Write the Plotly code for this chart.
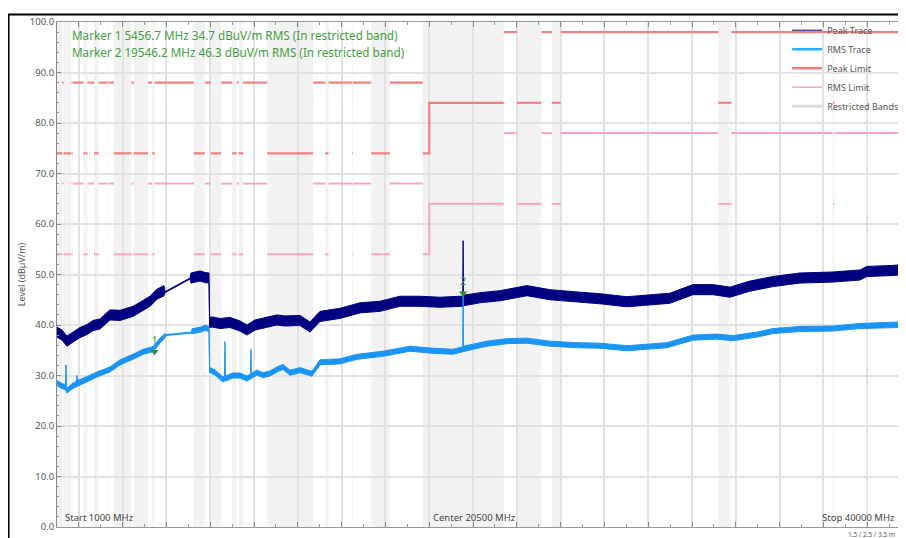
import plotly.graph_objects as go

# ---------------- data (MHz, dBuV/m) ----------------
peak_freq = [1000, 1228, 1457, 1685, 2050, 2370, 2644, 2963, 3420, 3877, 4470, 4790, 5247, 5566, 5886,
             5932, 7073, 7119, 7530, 7758, 7941, 7968, 8078, 8443, 8900, 9356, 9676, 10041, 10589, 11046,
             11411, 11776, 12096, 12552, 13009, 13922, 14836, 15749, 16662, 17575, 18489, 19402, 19530,
             19546, 19562, 20315, 21228, 22461, 23511, 24881, 25794, 27027, 28077, 28991, 30041, 30954,
             31730, 32644, 33694, 34927, 36434, 37666, 37986, 39173, 40000]
peak_lo = [37.6, 37.0, 35.8, 36.5, 37.5, 38.1, 38.9, 39.2, 41.0, 40.9, 41.7, 42.5, 43.7, 45.1, 45.8,
           46.4, 49.1, 48.3, 48.7, 48.4, 48.3, 39.5, 39.6, 39.3, 39.5, 38.8, 38.0, 39.0, 39.6, 40.0,
           39.8, 39.9, 39.9, 38.6, 40.7, 41.3, 42.4, 42.7, 43.7, 43.7, 43.5, 43.7, 43.7,
           43.8, 43.9, 44.4, 44.8, 45.8, 45.0, 44.5, 44.2, 43.6, 44.0, 44.3, 46.0, 46.0,
           45.5, 46.7, 47.6, 48.3, 48.5, 48.9, 49.6, 49.8, 50.1]
peak_hi = [39.6, 39.0, 37.8, 38.5, 39.5, 40.1, 40.9, 41.2, 43.0, 42.9, 43.7, 44.5, 45.7, 47.1, 47.8,
           46.6, 49.3, 50.3, 50.7, 50.4, 50.3, 41.5, 41.6, 41.3, 41.5, 40.8, 40.0, 41.0, 41.6, 42.0,
           41.8, 41.9, 41.9, 40.6, 42.7, 43.3, 44.4, 44.7, 45.7, 45.7, 45.5, 45.7, 45.7,
           56.7, 45.9, 46.4, 46.8, 47.8, 47.0, 46.5, 46.2, 45.6, 46.0, 46.3, 48.0, 48.0,
           47.5, 48.7, 49.6, 50.3, 50.5, 50.9, 51.6, 51.8, 52.1]

rms_freq = [1000, 1228, 1390, 1411, 1432, 1457, 1685, 1890, 1913, 1936, 2370, 2826, 3420, 3877, 4470,
            4927, 5383, 5703, 5932, 5960, 7140, 7164, 7530, 7758, 7941, 7968, 8214, 8579, 8650, 8671,
            8692, 9036, 9356, 9676, 9840, 9858, 9876, 10132, 10406, 10726, 11046, 11320, 11640, 12096,
            12644, 13009, 13922, 14699, 15886, 17119, 18169, 19082, 19447, 19530, 19546, 19562, 19995,
            20634, 21548, 22461, 23511, 24744, 25794, 27027, 28853, 30040, 31136, 31867, 32963, 33693,
            34926, 36433, 37666, 39493, 40000]
rms_lo = [28.0, 27.4, 27.2, 27.2, 26.8, 26.5, 27.35, 27.9, 27.9, 28.0, 28.8, 29.7, 30.7, 32.1, 33.2,
          34.2, 34.7, 36.4, 37.5, 37.9, 38.4, 38.25, 38.55, 38.95, 38.7, 30.6, 30.1, 28.7, 28.9, 28.9,
          28.9, 29.5, 29.5, 28.9, 29.3, 29.3, 29.4, 30.1, 29.55, 29.9, 30.7, 31.2, 30.05, 30.55,
          29.85, 32.1, 32.3, 33.2, 33.8, 34.8, 34.4, 34.2, 34.6, 34.7, 34.7, 34.8, 35.2,
          35.8, 36.3, 36.4, 35.8, 35.5, 35.4, 34.9, 35.5, 37.0, 37.2, 36.9, 37.6, 38.3,
          38.7, 38.8, 39.3, 39.5, 39.7]
rms_hi = [29.0, 28.4, 28.2, 32.1, 27.8, 27.5, 28.35, 28.9, 30.0, 29.0, 29.8, 30.7, 31.7, 33.1, 34.2,
          35.2, 35.7, 37.4, 38.3, 38.1, 38.6, 39.25, 39.55, 39.95, 39.7, 31.6, 31.1, 29.7, 29.9, 36.7,
          29.9, 30.5, 30.5, 29.9, 30.3, 35.2, 30.4, 31.1, 30.55, 30.9, 31.7, 32.2, 31.05, 31.55,
          30.85, 33.1, 33.3, 34.2, 34.8, 35.8, 35.4, 35.2, 35.6, 35.7, 46.6, 35.8, 36.2,
          36.8, 37.3, 37.4, 36.8, 36.5, 36.4, 35.9, 36.5, 38.0, 38.2, 37.9, 38.6, 39.3,
          39.7, 39.8, 40.3, 40.5, 40.7]

# Restricted bands (MHz)
band_start = [960, 1300, 1435, 1645.5, 1660, 1718.8, 2200, 2310, 2483.5, 2690, 3260, 3332, 3345.8,
              3600, 4500, 5350, 7250, 8025, 9000, 9300, 10600, 13250, 14470, 15350, 17700, 22010,
              23600, 31200, 36430]
band_end = [1240, 1427, 1626.5, 1646.5, 1710, 1722.2, 2300, 2390, 2500, 2900, 3267, 3339, 3358,
            4400, 5150, 5460, 7750, 8500, 9200, 9500, 12700, 13400, 14500, 16200, 21400, 23120,
            24000, 31800, 36500]

span_start, span_stop = 1000, 40000
limit_step_freq = 18000
peak_limit_restricted = [74, 84]
peak_limit_other = [88, 98]
rms_limit_restricted = [54, 64]
rms_limit_other = [68, 78]

marker_ids = [1, 2]
marker_freq = [5456.7, 19546.2]
marker_level = [34.7, 46.3]

# ---------------- helpers ----------------
def intervals():
    out = []
    pos = span_start
    for a, b in zip(band_start, band_end):
        a2, b2 = max(a, span_start), min(b, span_stop)
        if a2 > pos:
            out.append((pos, a2, False))
        out.append((a2, b2, True))
        pos = b2
    if pos < span_stop:
        out.append((pos, span_stop, False))
    return out


def limit_line(restricted_vals, other_vals):
    xs, ys = [], []
    for a, b, restr in intervals():
        v = restricted_vals if restr else other_vals
        if a < limit_step_freq < b:
            xs += [a, limit_step_freq, limit_step_freq, b]
            ys += [v[0], v[0], v[1], v[1]]
        else:
            val = v[0] if b <= limit_step_freq else v[1]
            xs += [a, b]
            ys += [val, val]
        xs.append(None)
        ys.append(None)
    return xs, ys


fig = go.Figure()

# restricted band shading
for a, b in zip(band_start, band_end):
    fig.add_shape(type="rect", xref="x", yref="paper", x0=max(a, span_start), x1=b, y0=0, y1=1,
                  fillcolor="#f2f2f2", line_width=0, layer="below")

PEAK_C = "#000080"
RMS_C = "#1a95f5"
PLIM_C = "#f08080"
RLIM_C = "#ffa3c4"

px, py = limit_line(peak_limit_restricted, peak_limit_other)
fig.add_trace(go.Scatter(x=px, y=py, mode="lines", line=dict(color=PLIM_C, width=2.2),
                         showlegend=False, hoverinfo="skip"))
rx, ry = limit_line(rms_limit_restricted, rms_limit_other)
fig.add_trace(go.Scatter(x=rx, y=ry, mode="lines", line=dict(color=RLIM_C, width=2),
                         showlegend=False, hoverinfo="skip"))

fig.add_trace(go.Scatter(x=peak_freq + peak_freq[::-1], y=peak_hi + peak_lo[::-1], mode="lines",
                         fill="toself", fillcolor=PEAK_C, line=dict(color=PEAK_C, width=1),
                         showlegend=False, hoverinfo="skip"))
fig.add_trace(go.Scatter(x=rms_freq + rms_freq[::-1], y=rms_hi + rms_lo[::-1], mode="lines",
                         fill="toself", fillcolor=RMS_C, line=dict(color=RMS_C, width=1),
                         showlegend=False, hoverinfo="skip"))

# markers
fig.add_trace(go.Scatter(x=marker_freq, y=marker_level, mode="markers+text",
                         marker=dict(symbol="triangle-down", size=7, color="#2e8b2e"),
                         text=[str(i) for i in marker_ids], textposition="top center",
                         textfont=dict(color="#4a9e4a", size=11, family="Noto Sans"),
                         showlegend=False, hoverinfo="skip"))

# legend entries
legend_items = [("Peak Trace", PEAK_C, 1), ("RMS Trace", "#33adff", 2.5),
                ("Peak Limit", PLIM_C, 2.5), ("RMS Limit", RLIM_C, 1.5),
                ("Restricted Bands", "#dadada", 3)]
for name, col, w in legend_items:
    fig.add_trace(go.Scatter(x=[None], y=[None], mode="lines", name=name,
                             line=dict(color=col, width=w)))

# marker readouts
for i, (mid, f, v) in enumerate(zip(marker_ids, marker_freq, marker_level)):
    fig.add_annotation(text=f"Marker {mid} {f} MHz {v} dBuV/m RMS (In restricted band)",
                       xref="paper", yref="paper", x=0.0153, y=0.974 - i * 0.0327,
                       xanchor="left", yanchor="middle", showarrow=False,
                       font=dict(family="Noto Sans", size=11.7, color="#3f9f3f"))

ann_font = dict(family="Noto Sans", size=9.5, color="#444444")
fig.add_annotation(text=f"Start {span_start} MHz", xref="paper", yref="paper", x=0.0071, y=0.0197,
                   xanchor="left", yanchor="middle", showarrow=False, font=ann_font)
fig.add_annotation(text=f"Center {(span_start + span_stop) // 2} MHz", xref="paper", yref="paper",
                   x=0.4918, y=0.0197, xanchor="center", yanchor="middle", showarrow=False, font=ann_font)
fig.add_annotation(text=f"Stop {span_stop} MHz", xref="paper", yref="paper", x=0.9894, y=0.0197,
                   xanchor="right", yanchor="middle", showarrow=False, font=ann_font)
fig.add_annotation(text="1.5 / 2.5 / 3.5 m", xref="paper", yref="paper", x=0.9894, y=-0.0157,
                   xanchor="right", yanchor="middle", showarrow=False,
                   font=dict(family="Noto Sans", size=6.5, color="#555555"))

# outer frame
fig.add_shape(type="rect", xref="paper", yref="paper", x0=-0.0571, x1=1.2, y0=-0.2, y1=1.0148,
              line=dict(color="black", width=2), fillcolor="rgba(0,0,0,0)", layer="above")

fig.update_layout(
    width=906, height=538,
    margin=dict(l=49, r=8, t=11, b=19),
    paper_bgcolor="white", plot_bgcolor="white",
    font=dict(family="Noto Sans", color="#555555"),
    legend=dict(x=0.86, y=1.0125, xanchor="left", yanchor="top", bgcolor="rgba(0,0,0,0)",
                font=dict(size=9, color="#555555"), itemwidth=30, tracegroupgap=0),
    xaxis=dict(range=[span_start, 39770], showticklabels=False, dtick=2000, tick0=0,
               showgrid=True, gridcolor="#e2e2e2", gridwidth=1.5, zeroline=False,
               ticks="inside", ticklen=5, tickcolor="#888888", showline=True, linecolor="#999999",
               mirror="ticks",
               minor=dict(dtick=1000, tick0=0, ticks="inside", ticklen=3, tickcolor="#999999",
                          showgrid=False)),
    yaxis=dict(range=[0, 100], dtick=10, tickformat=".1f", showgrid=True, gridcolor="#e2e2e2",
               gridwidth=1.5, zeroline=False, ticks="inside", ticklen=4, tickcolor="#888888",
               showline=True, linecolor="#888888", tickfont=dict(size=9.5, color="#555555"),
               title=dict(text="Level (dBµV/m)", font=dict(size=9, color="#555555"), standoff=2),
               minor=dict(dtick=2, ticks="inside", ticklen=2, tickcolor="#999999", showgrid=False)),
)

fig.write_html("out.html")
